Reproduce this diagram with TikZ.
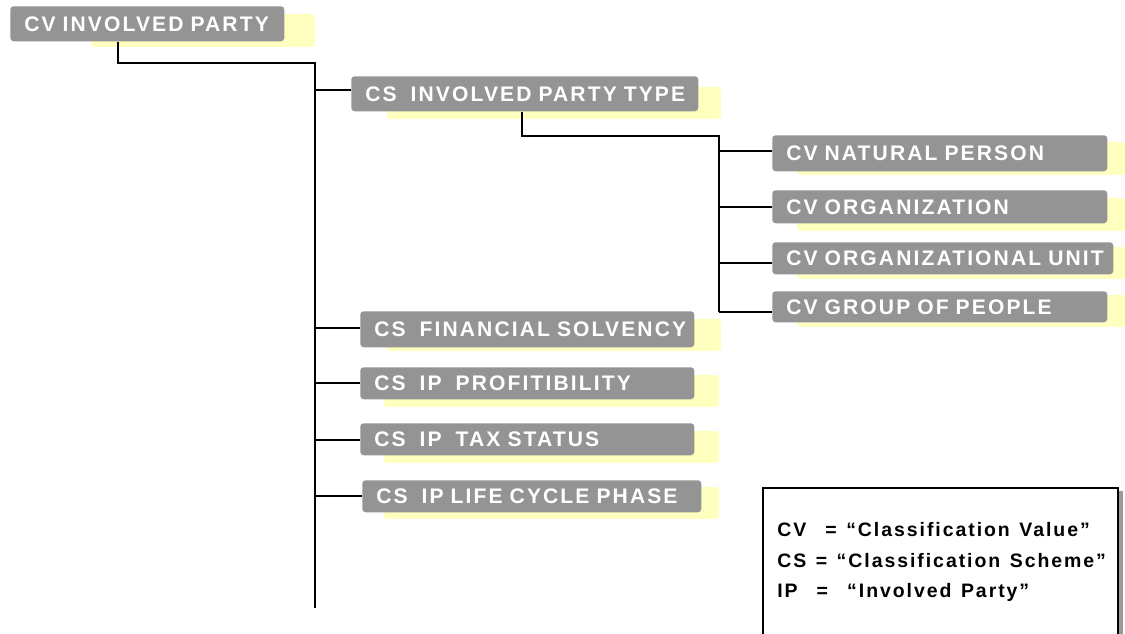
\documentclass[tikz,border=0pt]{standalone}
\usepackage{fontspec}
\newfontfamily\boxfont[LetterSpace=10,WordSpace=1.7]{Liberation Sans}
\newfontfamily\legfont[LetterSpace=10,WordSpace=1.3]{Liberation Sans}
\definecolor{boxgray}{HTML}{949494}
\definecolor{shadowyellow}{HTML}{FFFFC0}
\definecolor{legshadow}{HTML}{9A9A9A}
\begin{document}
\begin{tikzpicture}[x=0.75pt,y=-0.75pt,
  graybox/.style={fill=boxgray, rounded corners=2.5pt, anchor=north west,
    inner xsep=10.5pt, inner ysep=0pt, text=white,
    font=\boxfont\bfseries\fontsize{15.8}{17}\selectfont, text depth=0pt},
  yellowbox/.style={fill=shadowyellow, rounded corners=2.5pt},
  conn/.style={draw=black, line width=1.1pt},
  legtext/.style={anchor=base west, inner sep=0pt, font=\legfont\bfseries\fontsize{14.6}{16}\selectfont}]
\useasboundingbox (0,0) rectangle (1125,634);
% yellow shadows
\fill[yellowbox] (91,14) rectangle (315,47);
\fill[yellowbox] (387,87) rectangle (721,119);
\fill[yellowbox] (797,142) rectangle (1125,175);
\fill[yellowbox] (797,198) rectangle (1125,231);
\fill[yellowbox] (797,247) rectangle (1125,279);
\fill[yellowbox] (797,295) rectangle (1125,327);
\fill[yellowbox] (387,319) rectangle (721,351);
\fill[yellowbox] (384,375) rectangle (719,407);
\fill[yellowbox] (384,431) rectangle (719,463);
\fill[yellowbox] (384,487) rectangle (719,519);
% gray boxes
\node[graybox, minimum width=274*0.75pt, minimum height=35*0.75pt, text width=274*0.75pt-21pt] (root) at (10,6) {\mbox{CV INVOLVED PARTY}};
\node[graybox, minimum width=347*0.75pt, minimum height=35*0.75pt, text width=347*0.75pt-21pt] (ptype) at (351,76) {\mbox{CS~ INVOLVED PARTY TYPE}};
\node[graybox, minimum width=335*0.75pt, minimum height=36*0.75pt, text width=335*0.75pt-21pt] (natural) at (772,135) {\mbox{CV NATURAL PERSON}};
\node[graybox, minimum width=335*0.75pt, minimum height=33*0.75pt, text width=335*0.75pt-21pt] (org) at (772,190) {\mbox{CV ORGANIZATION}};
\node[graybox, minimum width=341*0.75pt, minimum height=32*0.75pt, text width=341*0.75pt-21pt] (unit) at (772,242) {\mbox{CV ORGANIZATIONAL UNIT}};
\node[graybox, minimum width=335*0.75pt, minimum height=31*0.75pt, text width=335*0.75pt-21pt] (group) at (772,291) {\mbox{CV GROUP OF PEOPLE}};
\node[graybox, minimum width=334*0.75pt, minimum height=36*0.75pt, text width=334*0.75pt-21pt] (solv) at (360,311) {\mbox{CS~ FINANCIAL SOLVENCY}};
\node[graybox, minimum width=334*0.75pt, minimum height=32*0.75pt, text width=334*0.75pt-21pt] (profit) at (360,367) {\mbox{CS~ IP~ PROFITIBILITY}};
\node[graybox, minimum width=334*0.75pt, minimum height=32*0.75pt, text width=334*0.75pt-21pt] (tax) at (360,423) {\mbox{CS~ IP~ TAX STATUS}};
\node[graybox, minimum width=339*0.75pt, minimum height=32*0.75pt, text width=339*0.75pt-21pt] (life) at (362,480) {\mbox{CS~ IP LIFE CYCLE PHASE}};
% connector coordinates
\coordinate (rootdrop) at (118,41);
\coordinate (trunktop) at (315,63);
\coordinate (trunkend) at (315,608);
\coordinate (t1) at (315,90);
\coordinate (t2) at (315,328);
\coordinate (t3) at (315,383);
\coordinate (t4) at (315,440);
\coordinate (t5) at (315,496);
\coordinate (ptdrop) at (522,111);
\coordinate (subtop) at (719,136);
\coordinate (s1) at (719,151);
\coordinate (s2) at (719,207);
\coordinate (s3) at (719,263);
\coordinate (s4) at (719,312);
% connectors
\draw[conn] (root.south -| rootdrop) |- (trunktop) -- (trunkend);
\draw[conn] (t1) -- (ptype.west |- t1);
\draw[conn] (t2) -- (solv.west |- t2);
\draw[conn] (t3) -- (profit.west |- t3);
\draw[conn] (t4) -- (tax.west |- t4);
\draw[conn] (t5) -- (life.west |- t5);
\draw[conn] (ptype.south -| ptdrop) |- (subtop) -- (s4);
\draw[conn] (s1) -- (natural.west |- s1);
\draw[conn] (s2) -- (org.west |- s2);
\draw[conn] (s3) -- (unit.west |- s3);
\draw[conn] (s4) -- (group.west |- s4);
% legend
\fill[legshadow] (1119,491) rectangle (1123,634);
\draw[line width=0.9pt] (763,640) -- (763,488) -- (1118,488) -- (1118,640);
\node[legtext] (leg1) at (777,537) {CV~ = “Classification Value”};
\node[legtext] (leg2) at (777,567) {CS = “Classification Scheme”};
\node[legtext] (leg3) at (777,597) {IP~ = ~“Involved Party”};
\end{tikzpicture}
\end{document}
